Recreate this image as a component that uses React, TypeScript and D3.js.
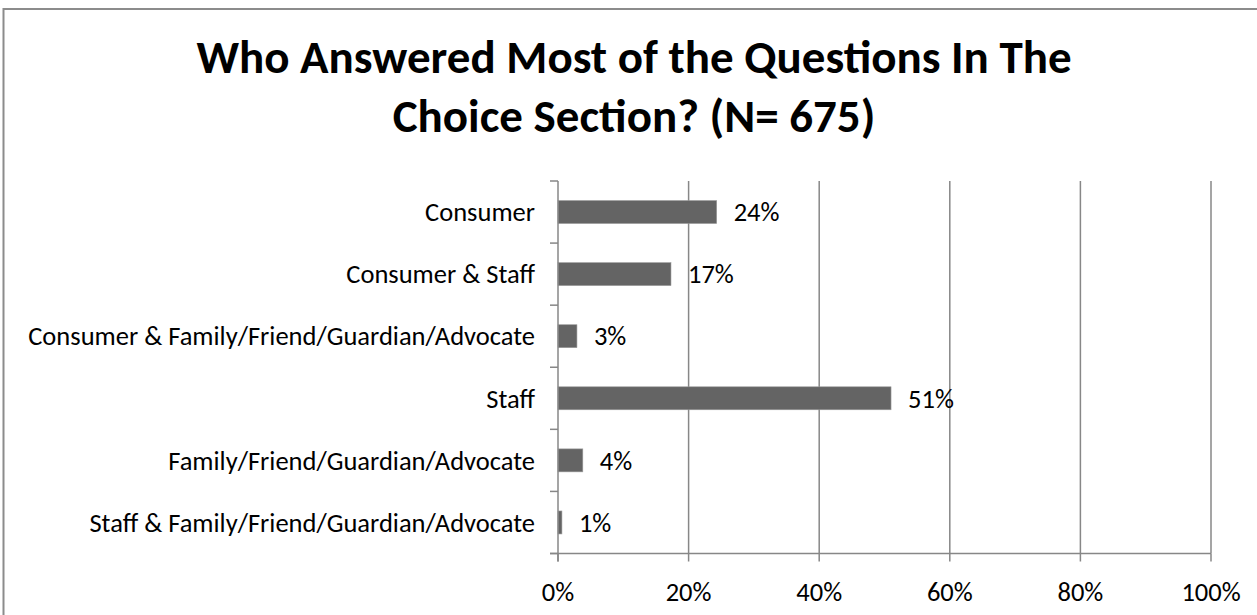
import React, { useEffect, useRef, ReactElement } from 'react'
import * as d3 from 'd3'

const categories = [
  'Consumer',
  'Consumer & Staff',
  'Consumer & Family/Friend/Guardian/Advocate',
  'Staff',
  'Family/Friend/Guardian/Advocate',
  'Staff & Family/Friend/Guardian/Advocate'
]
const shares = [0.243, 0.173, 0.029, 0.51, 0.038, 0.006]
const xTicks = [0, 0.2, 0.4, 0.6, 0.8, 1]
const titleLines = ['Who Answered Most of the Questions In The', 'Choice Section? (N= 675)']

const W = 1257
const H = 615
const FONT = 'Carlito, Lato, sans-serif'

const App = (): ReactElement => {
  const ref = useRef<SVGSVGElement>(null)

  const drawChart = () => {
    const svg = d3.select(ref.current)
    svg.selectAll('*').remove()

    const margin = { top: 181, right: 46, bottom: 61.5, left: 558 }
    const x = d3.scaleLinear().domain([0, 1]).range([margin.left, W - margin.right])
    const y = d3.scaleBand<string>()
      .domain(categories)
      .range([margin.top, H - margin.bottom])
      .paddingInner(0.63)
      .paddingOuter(0.315)
    const yBottom = H - margin.bottom
    const gridColor = '#878787'
    const pct = d3.format('.0%')
    const labelSize = '26.5px'

    // chart border
    svg.append('rect')
      .attr('x', 3.5).attr('y', 9).attr('width', W + 10).attr('height', H + 10)
      .attr('fill', 'white').attr('stroke', '#8c8c8c').attr('stroke-width', 2)

    // title
    svg.append('g').selectAll('text')
      .data(titleLines)
      .join('text')
      .attr('x', 634)
      .attr('y', (d, i) => 73 + i * 59)
      .attr('text-anchor', 'middle')
      .style('font-family', FONT)
      .style('font-weight', 700)
      .style('font-size', '47px')
      .style('fill', '#000')
      .text(d => d)

    // vertical gridlines
    svg.append('g').selectAll('line')
      .data(xTicks.slice(1))
      .join('line')
      .attr('x1', d => x(d)).attr('x2', d => x(d))
      .attr('y1', margin.top).attr('y2', yBottom)
      .attr('stroke', gridColor).attr('stroke-width', 1.5)

    // bars
    const rows = categories.map((c, i) => ({ label: c, value: shares[i] }))
    svg.append('g').selectAll('rect')
      .data(rows)
      .join('rect')
      .attr('x', x(0))
      .attr('y', d => y(d.label) ?? 0)
      .attr('width', d => x(d.value) - x(0))
      .attr('height', y.bandwidth())
      .attr('fill', '#646464')
      .attr('stroke', '#9a9a9a')
      .attr('stroke-width', 0.6)

    // value labels
    svg.append('g').selectAll('text')
      .data(rows)
      .join('text')
      .attr('x', d => x(d.value) + 17)
      .attr('y', d => (y(d.label) ?? 0) + y.bandwidth() / 2)
      .attr('dy', '0.35em')
      .style('font-family', FONT)
      .style('font-size', labelSize)
      .style('fill', '#000')
      .text(d => pct(d.value))

    // y axis line + ticks at band boundaries
    svg.append('line')
      .attr('x1', x(0)).attr('x2', x(0))
      .attr('y1', margin.top).attr('y2', yBottom + 8)
      .attr('stroke', gridColor).attr('stroke-width', 1.5)
    const step = y.step()
    svg.append('g').selectAll('line')
      .data(d3.range(categories.length + 1))
      .join('line')
      .attr('x1', x(0) - 8).attr('x2', x(0))
      .attr('y1', i => margin.top + i * step).attr('y2', i => margin.top + i * step)
      .attr('stroke', gridColor).attr('stroke-width', 1.5)

    // category labels
    svg.append('g').selectAll('text')
      .data(categories)
      .join('text')
      .attr('x', x(0) - 23)
      .attr('y', d => (y(d) ?? 0) + y.bandwidth() / 2)
      .attr('dy', '0.35em')
      .attr('text-anchor', 'end')
      .style('font-family', FONT)
      .style('font-size', labelSize)
      .style('fill', '#000')
      .text(d => d)

    // x axis line + ticks
    svg.append('line')
      .attr('x1', x(0) - 8).attr('x2', x(1))
      .attr('y1', yBottom).attr('y2', yBottom)
      .attr('stroke', gridColor).attr('stroke-width', 1.5)
    svg.append('g').selectAll('line')
      .data(xTicks)
      .join('line')
      .attr('x1', d => x(d)).attr('x2', d => x(d))
      .attr('y1', yBottom).attr('y2', yBottom + 8)
      .attr('stroke', gridColor).attr('stroke-width', 1.5)

    svg.append('g').selectAll('text')
      .data(xTicks)
      .join('text')
      .attr('x', d => x(d))
      .attr('y', yBottom + 38)
      .attr('dy', '0.35em')
      .attr('text-anchor', 'middle')
      .style('font-family', FONT)
      .style('font-size', labelSize)
      .style('fill', '#000')
      .text(d => pct(d))
  }

  useEffect(drawChart, [])

  return (
    <svg ref={ref} width={W} height={H} style={{ position: 'absolute', left: 0, top: 0, background: 'white' }} />
  )
}

export default App
